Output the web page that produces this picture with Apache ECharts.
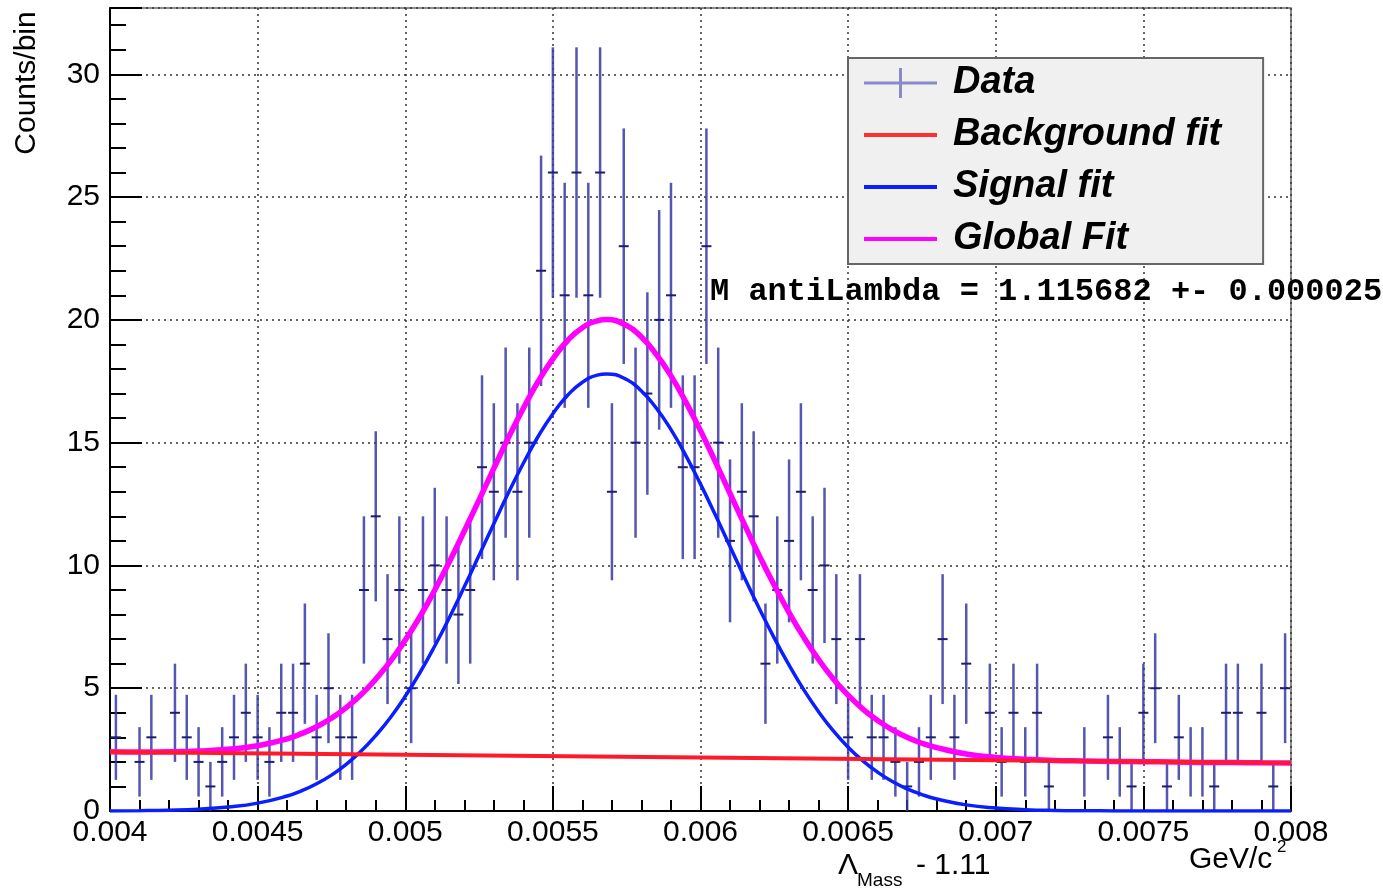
<!DOCTYPE html>
<html>
<head>
<meta charset="utf-8">
<title>antiLambda mass</title>
<script src="https://cdn.jsdelivr.net/npm/echarts/dist/echarts.min.js"></script>
<style>
  html, body { margin: 0; padding: 0; background: #fff; }
  #chartMass { width: 1383px; height: 893px; }
</style>
</head>
<body>
<div id="chartMass"></div>
<script>
  // histogram: 100 bins from 0.004 to 0.008 (Lambda mass - 1.11, GeV/c^2)
  var xMin = 0.004;
  var binWidth = 0.00004;
  var counts = [
    3, 0, 2, 3, 0, 4, 3, 2, 1, 2,
    3, 4, 3, 2, 4, 4, 6, 3, 5, 3,
    3, 9, 12, 7, 9, 5, 9, 10, 9, 8,
    9, 14, 13, 15, 13, 15, 22, 26, 21, 26,
    21, 26, 13, 23, 15, 17, 20, 21, 14, 14,
    23, 15, 11, 13, 12, 6, 9, 11, 13, 9,
    10, 7, 3, 7, 3, 3, 2, 1, 2, 3,
    7, 3, 6, 0, 4, 2, 4, 2, 4, 1,
    0, 0, 2, 0, 3, 2, 1, 4, 5, 1,
    3, 2, 2, 1, 4, 4, 0, 4, 1, 5
  ];

  // fit curves (denser around the peak)
  var curveX = [
    0.0040, 0.0041, 0.0042, 0.0043, 0.0044, 0.0045, 0.0046,
    0.00465, 0.0047, 0.00475, 0.0048, 0.00485, 0.0049, 0.00495, 0.0050,
    0.00505, 0.0051, 0.00515, 0.0052, 0.00525, 0.0053, 0.00535, 0.0054,
    0.00545, 0.0055, 0.00555, 0.0056, 0.00565, 0.005682, 0.00575, 0.0058,
    0.00585, 0.0059, 0.00595, 0.0060, 0.00605, 0.0061, 0.00615, 0.0062,
    0.00625, 0.0063, 0.00635, 0.0064, 0.00645, 0.0065, 0.00655, 0.0066,
    0.00665, 0.0067, 0.00675,
    0.0068, 0.0069, 0.0070, 0.0071, 0.0072, 0.0073, 0.0074, 0.0075,
    0.0076, 0.0077, 0.0078, 0.0079, 0.0080
  ];
  var signalFit = [
    0.005, 0.013, 0.032, 0.073, 0.16, 0.32, 0.61,
    0.83, 1.11, 1.46, 1.90, 2.43, 3.07, 3.81, 4.67,
    5.64, 6.72, 7.89, 9.13, 10.41, 11.70, 12.97, 14.16,
    15.25, 16.18, 16.93, 17.46, 17.75, 17.80, 17.57, 17.10,
    16.41, 15.53, 14.48, 13.31, 12.06, 10.77, 9.48, 8.23,
    7.04, 5.94, 4.93, 4.04, 3.26, 2.60, 2.04, 1.58,
    1.20, 0.90, 0.67,
    0.49, 0.25, 0.12, 0.055, 0.024, 0.01, 0.004, 0.001,
    0, 0, 0, 0, 0
  ];
  var globalFit = [
    2.41, 2.40, 2.41, 2.44, 2.51, 2.66, 2.94,
    3.16, 3.43, 3.78, 4.21, 4.73, 5.37, 6.10, 6.96,
    7.92, 9.00, 10.16, 11.40, 12.67, 13.95, 15.22, 16.40,
    17.49, 18.41, 19.16, 19.68, 19.96, 20.01, 19.77, 19.30,
    18.60, 17.72, 16.66, 15.49, 14.23, 12.93, 11.64, 10.38,
    9.19, 8.08, 7.07, 6.17, 5.38, 4.72, 4.15, 3.69,
    3.30, 3.00, 2.76,
    2.58, 2.32, 2.18, 2.11, 2.06, 2.04, 2.02, 2.01,
    2.00, 1.98, 1.97, 1.96, 1.95
  ];
  var bgX = [0.004, 0.008];
  var bgFit = [2.40, 1.95];

  var massText = 'M antiLambda = 1.115682 +- 0.000025';
  var fontMain = '"Liberation Sans", Arial, Helvetica, sans-serif';
  // legend icons: moveTo points keep the box 73x30 so the bars are not stretched
  var iconData = 'path://M0,13.5h73v3h-73z M35,0h3v30h-3z';
  var iconLine = 'path://M0,0 M0,13h73v4h-73z M73,30';

  var dataPts = [];
  counts.forEach(function (n, i) {
    if (n > 0) {
      var e = Math.sqrt(n);
      dataPts.push([xMin + (i + 0.5) * binWidth, n, n - e, n + e]);
    }
  });

  function pairs(xs, ys) {
    return xs.map(function (x, i) { return [x, ys[i]]; });
  }

  function renderErr(params, api) {
    var x = api.value(0);
    var top = api.coord([x, api.value(3)]);
    var bot = api.coord([x, api.value(2)]);
    var mid = api.coord([x, api.value(1)]);
    return {
      type: 'group',
      children: [
        { type: 'line', shape: { x1: top[0], y1: top[1], x2: bot[0], y2: bot[1] },
          style: { stroke: 'rgba(55,55,165,0.85)', lineWidth: 2.5 } },
        { type: 'line', shape: { x1: mid[0] - 5, y1: mid[1], x2: mid[0] + 5, y2: mid[1] },
          style: { stroke: '#1c1c70', lineWidth: 2 } }
      ]
    };
  }

  var option = {
    animation: false,
    backgroundColor: '#fff',
    grid: {
      left: 110, right: 92, top: 8, bottom: 82,
      show: true, borderColor: '#666', borderWidth: 1.5
    },
    legend: {
      orient: 'vertical',
      left: 848,
      top: 58,
      padding: [6, 42, 6, 16],
      itemGap: 14,
      itemWidth: 73,
      itemHeight: 30,
      selectedMode: false,
      backgroundColor: '#f0f0f0',
      borderColor: '#666',
      borderWidth: 2,
      borderRadius: 0,
      textStyle: {
        fontFamily: fontMain, fontSize: 38, fontWeight: 'bold', fontStyle: 'italic',
        color: '#000', lineHeight: 36, padding: [0, 0, 0, 11]
      },
      data: [
        { name: 'Data', icon: iconData, itemStyle: { color: '#8a8ac8' } },
        { name: 'Background fit', icon: iconLine, itemStyle: { color: '#ff3030' } },
        { name: 'Signal fit', icon: iconLine, itemStyle: { color: '#0a1eff' } },
        { name: 'Global Fit', icon: iconLine, itemStyle: { color: '#ff00ff' } }
      ]
    },
    xAxis: {
      type: 'value',
      min: 0.004,
      max: 0.008,
      interval: 0.0005,
      axisLine: { show: true, lineStyle: { color: '#000', width: 2 } },
      axisTick: { show: true, inside: true, length: 25, lineStyle: { color: '#000', width: 2 } },
      minorTick: { show: true, splitNumber: 5, length: 11, lineStyle: { color: '#000', width: 2 } },
      splitLine: { show: true, lineStyle: { color: '#333', width: 1.5, type: [2, 4] } },
      axisLabel: {
        margin: 7, fontFamily: fontMain, fontSize: 30, color: '#000',
        formatter: function (v) { return String(+v.toFixed(4)); }
      }
    },
    yAxis: {
      type: 'value',
      min: 0,
      max: 32.7,
      interval: 5,
      axisLine: { show: true, lineStyle: { color: '#000', width: 2 } },
      axisTick: { show: true, inside: true, length: 32, lineStyle: { color: '#000', width: 2 } },
      minorTick: { show: true, splitNumber: 5, length: 16, lineStyle: { color: '#000', width: 2 } },
      splitLine: { show: true, lineStyle: { color: '#333', width: 1.5, type: [2, 4] } },
      axisLabel: {
        margin: 10, fontFamily: fontMain, fontSize: 30, color: '#000', showMaxLabel: false
      }
    },
    series: [
      {
        name: 'Data',
        type: 'custom',
        renderItem: renderErr,
        encode: { x: 0, y: 1 },
        data: dataPts,
        z: 1
      },
      {
        name: 'Background fit',
        type: 'line',
        data: pairs(bgX, bgFit),
        showSymbol: false,
        symbol: 'none',
        lineStyle: { color: '#ff1a2a', width: 4 },
        itemStyle: { color: '#ff1a2a' },
        z: 4
      },
      {
        name: 'Signal fit',
        type: 'line',
        data: pairs(curveX, signalFit),
        smooth: true,
        showSymbol: false,
        symbol: 'none',
        lineStyle: { color: '#0a1eff', width: 3.5 },
        itemStyle: { color: '#0a1eff' },
        z: 3
      },
      {
        name: 'Global Fit',
        type: 'line',
        data: pairs(curveX, globalFit),
        smooth: true,
        showSymbol: false,
        symbol: 'none',
        lineStyle: { color: '#ff00ff', width: 5.5 },
        itemStyle: { color: '#ff00ff' },
        z: 2
      }
    ],
    graphic: [
      { type: 'text', left: 710, top: 276, z: 10,
        style: { text: massText, fontFamily: '"Liberation Mono", "Courier New", monospace',
                 fontSize: 32, fontWeight: 'bold', fill: '#000' } },
      { type: 'text', x: 27, y: 83, rotation: Math.PI / 2,
        style: { text: 'Counts/bin', fontFamily: fontMain, fontSize: 30, fill: '#000',
                 align: 'center', verticalAlign: 'middle' } },
      { type: 'text', x: 838, y: 866,
        style: { text: 'Λ', fontFamily: fontMain, fontSize: 30, fill: '#000', verticalAlign: 'middle' } },
      { type: 'text', x: 857, y: 881,
        style: { text: 'Mass', fontFamily: fontMain, fontSize: 19, fill: '#000', verticalAlign: 'middle' } },
      { type: 'text', x: 916, y: 866,
        style: { text: '- 1.11', fontFamily: fontMain, fontSize: 30, fill: '#000', verticalAlign: 'middle' } },
      { type: 'text', x: 1189, y: 860,
        style: { text: 'GeV/c', fontFamily: fontMain, fontSize: 30, fill: '#000', verticalAlign: 'middle' } },
      { type: 'text', x: 1277, y: 847,
        style: { text: '2', fontFamily: fontMain, fontSize: 17, fill: '#000', verticalAlign: 'middle' } }
    ]
  };

  var myChart = echarts.init(document.getElementById('chartMass'));
  myChart.setOption(option);
</script>
</body>
</html>
